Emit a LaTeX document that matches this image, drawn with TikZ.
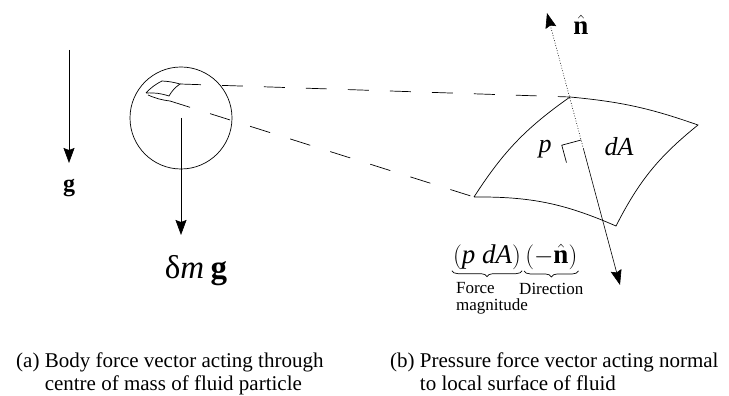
\documentclass[tikz,border=0pt]{standalone}
\usepackage{fontspec}
\setmainfont{Liberation Serif}
\usepackage{tikz}
\usetikzlibrary{positioning,calc,arrows.meta,decorations.pathreplacing}

\begin{document}
\begin{tikzpicture}[
    x=1pt, y=1pt,
    vec/.style={-{Stealth[length=15pt, width=11pt, inset=2pt]}, line width=0.6pt},
    edge/.style={line width=0.7pt},
    proj/.style={line width=0.7pt, dash pattern=on 21pt off 21pt},
    brace/.style={decorate, decoration={brace, mirror, amplitude=6pt}, line width=0.7pt},
    captext/.style={inner sep=0pt, anchor=north west, font=\fontsize{21}{23}\selectfont},
    sym/.style={inner sep=1pt, font=\fontsize{26}{26}\selectfont},
    small/.style={inner sep=0pt, font=\fontsize{17}{17}\selectfont},
]
\useasboundingbox (0,0) rectangle (729,396);

% Gravity
\coordinate (gtop) at (69,346);
\coordinate (gtip) at (69,233);
\draw[vec] (gtop) -- (gtip);
\node[sym, font=\fontsize{24}{24}\selectfont\bfseries] (g) at (69,208) {g};

% Fluid particle
\node[circle, draw, line width=0.7pt, minimum size=102pt, inner sep=0pt] (ball) at (181,278) {};
\coordinate (btip) at (181,161);
\draw[vec] (ball.center) -- (btip);
\node[sym, font=\fontsize{33}{33}\selectfont] (dmg) at (196,125) {δ\textit{m}\hspace{0.2em}\textbf{g}};

% Small surface element
\coordinate (sT) at (162,315);
\coordinate (sR) at (180,312);
\coordinate (sB) at (169,300);
\coordinate (sL) at (146,303);
\coordinate (sL2) at (148,301);
\coordinate (sB2) at (170,295);
\draw[edge] (sL) to[bend left=10] (sT) to[bend left=6] (sR) to[bend right=12] (sB) to[bend right=10] (sL);
\draw[edge] (sL2) to[bend right=8] (sB2);

% Large surface element dA
\coordinate (T) at (570,299);
\coordinate (R) at (698,271);
\coordinate (B) at (616,170);
\coordinate (L) at (474,199);
\draw[edge] (L) to[bend left=11] (T) to[bend left=7] (R) to[bend right=12] (B) to[bend right=12] (L);

% Projection lines
\draw[proj] (sR) -- (T);
\draw[proj] (sB2) -- (L);

% Normal
\coordinate (N) at (547,383);
\coordinate (S) at (620,111);
\coordinate (M) at ($(N)!0.5!(S)$);
\draw[vec, dash pattern=on 0.8pt off 1.8pt] (M) -- (N);
\draw[vec] (M) -- (S);
\node[sym, font=\fontsize{27}{27}\selectfont] (nhat) at (581,371) {$\hat{\textbf{n}}$};

% Right angle mark
\coordinate (A) at ($(N)!0.467!(S)$);
\coordinate (ra1) at ($(A)!20pt!-90:(S)$);
\coordinate (ra2) at ($(ra1)+(4.7,-17.4)$);
\draw[edge] (A) -- (ra1) -- (ra2);

\node[sym] (p) at (545,247) {\textit{p}};
\node[sym] (dA) at (619,249) {\textit{dA}};

% Pressure force
\node[sym, font=\fontsize{27}{27}\selectfont] (pdA) at (487,139) {$\bigl(\textit{p dA}\bigr)$};
\node[sym, font=\fontsize{27}{27}\selectfont, right=2pt of pdA] (negn) {$\bigl(-\hat{\textbf{n}}\bigr)$};
\draw[brace] (pdA.south west) -- (pdA.south east);
\draw[brace] (negn.south west) -- (negn.south east);
\node[small, below=12pt of pdA.south west, anchor=north west, xshift=4pt, align=left] (fm) {Force\\magnitude};
\node[small, below=12pt of negn.south, anchor=north] (dir) {Direction};

% Captions
\node[captext] (capa) at (16,45) {\begin{tabular}{@{}l@{ }l@{}}(a) & Body force vector acting through\\ & centre of mass of fluid particle\end{tabular}};
\node[captext] (capb) at (390,45) {\begin{tabular}{@{}l@{ }l@{}}(b) & Pressure force vector acting normal\\ & to local surface of fluid\end{tabular}};
\end{tikzpicture}
\end{document}
